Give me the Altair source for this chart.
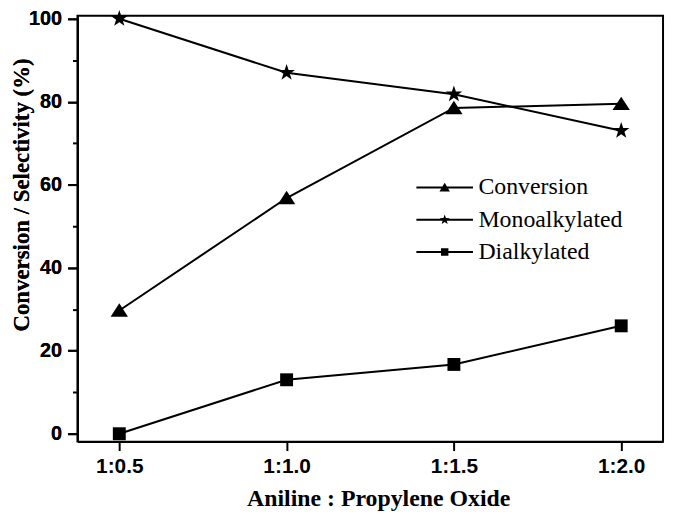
import altair as alt
import pandas as pd

# ---- data ----
ratios = [0.5, 1.0, 1.5, 2.0]
ratio_labels = ["1:0.5", "1:1.0", "1:1.5", "1:2.0"]
conversion = [29.7, 56.8, 78.5, 79.5]
monoalkylated = [100.0, 87.0, 81.8, 73.0]
dialkylated = [0.0, 13.0, 16.7, 26.0]
series_names = ["Conversion", "Monoalkylated", "Dialkylated"]

rows = []
for name, vals in zip(series_names, [conversion, monoalkylated, dialkylated]):
    for r, v in zip(ratios, vals):
        rows.append({"ratio": r, "value": v, "series": name})
df = pd.DataFrame(rows)

# ---- marker shapes (unit paths) ----
TRI = "M0,-1.45 L1.75,1.25 L-1.75,1.25 Z"
STAR = ("M0,-1.75 L0.4,-0.55 L1.664,-0.541 L0.647,0.21 L1.029,1.416 "
        "L0,0.68 L-1.029,1.416 L-0.647,0.21 L-1.664,-0.541 L-0.4,-0.55 Z")
SQ = "M-1.3,-1.3 H1.3 V1.3 H-1.3 Z"

LINE = "M-5.7,-0.2 H5.7 V0.2 H-5.7 Z "
L_TRI = LINE + "M0,-0.95 L1.05,0.8 L-1.05,0.8 Z"
L_STAR = LINE + ("M0,-1.05 L0.247,-0.34 L1.0,-0.325 L0.4,0.13 L0.617,0.85 "
                 "L0,0.42 L-0.617,0.85 L-0.4,0.13 L-1.0,-0.325 L-0.247,-0.34 Z")
L_SQ = LINE + "M-0.75,-0.75 H0.75 V0.75 H-0.75 Z"

x_scale = alt.Scale(domain=[0.375, 2.125], nice=False, zero=False)
y_scale = alt.Scale(domain=[-1.9, 100.7], nice=False, zero=False)

x_axis = alt.Axis(
    values=ratios,
    labelExpr="'1:' + format(datum.value, '.1f')",
    title="Aniline : Propylene Oxide",
    titleFont="Liberation Serif", titleFontSize=24, titleFontWeight="bold",
    titleX=303, titleY=64, titleBaseline="alphabetic", titleAnchor="middle",
    labelFont="Liberation Sans", labelFontSize=21, labelFontWeight="bold",
    labelPadding=5, tickSize=9, grid=False, labelFlush=False,
)

y_axis_major = alt.Axis(
    values=[0, 20, 40, 60, 80, 100], orient="left",
    title="Conversion / Selectivity (%)",
    titleFont="Liberation Serif", titleFontSize=23, titleFontWeight="bold",
    titleX=-49, titleY=180, titleBaseline="alphabetic", titleAngle=-90,
    labelFont="Liberation Sans", labelFontSize=20, labelFontWeight="bold",
    labelPadding=6, tickSize=10, grid=False, labelFlush=False,
)

y_axis_minor = alt.Axis(
    values=[10, 30, 50, 70, 90], orient="left", labels=False, title=None,
    tickSize=5, grid=False, domain=False,
)

base = alt.Chart(df)

lines = base.mark_line(color="black", strokeWidth=2).encode(
    x=alt.X("ratio:Q", scale=x_scale, axis=x_axis),
    y=alt.Y("value:Q", scale=y_scale, axis=y_axis_minor),
    detail="series:N",
)

points = base.mark_point(filled=True, color="black", size=100, opacity=1).encode(
    x=alt.X("ratio:Q", scale=x_scale, axis=x_axis),
    y=alt.Y("value:Q", scale=y_scale, axis=y_axis_major),
    shape=alt.Shape("series:N", scale=alt.Scale(domain=series_names, range=[TRI, STAR, SQ]),
                    legend=None),
)

legend_layer = base.mark_point(filled=True, color="black", size=100, opacity=0).encode(
    x=alt.X("ratio:Q", scale=x_scale, axis=x_axis),
    y=alt.Y("value:Q", scale=y_scale, axis=y_axis_major),
    shape=alt.Shape(
        "series:N",
        scale=alt.Scale(domain=series_names, range=[L_TRI, L_STAR, L_SQ]),
        legend=alt.Legend(
            title=None, orient="none", legendX=358, legendY=161,
            labelFont="Liberation Serif", labelFontSize=24, labelFontWeight="normal",
            labelColor="black", labelOffset=22, rowPadding=8.5, padding=0,
            symbolOpacity=1, symbolFillColor="black", symbolStrokeWidth=0,
            symbolSize=100,
        ),
    ),
)

chart = (
    alt.layer(lines, points, legend_layer)
    .resolve_scale(shape="independent")
    .resolve_axis(y="independent")
    .properties(
        width=590, height=429,
        autosize=alt.AutoSizeParams(type="none"),
        padding={"left": 70, "top": 6, "right": 4, "bottom": 68},
        background="white",
    )
    .configure_view(stroke="black", strokeWidth=2)
    .configure_axis(domainColor="black", domainWidth=2, tickColor="black", tickWidth=2,
                    labelColor="black", titleColor="black")
)

chart.save("out.html", embed_options={"renderer": "svg", "actions": False})
